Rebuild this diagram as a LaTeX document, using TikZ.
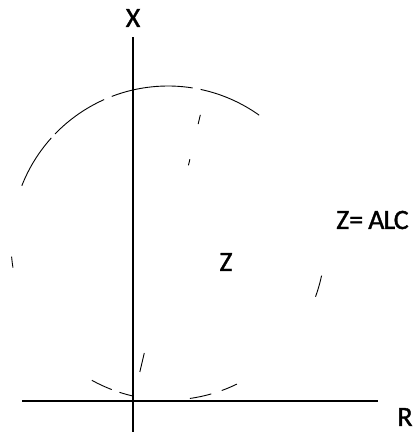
\documentclass[tikz,border=0pt]{standalone}
\usepackage{fontspec}
\setmainfont{Carlito}
\newfontfamily\lblfont{Carlito}[FakeBold=1.2]
\usetikzlibrary{calc}
\begin{document}
\begin{tikzpicture}[x=1pt,y=1pt,
  axis/.style={line width=1.4pt},
  arcline/.style={line width=0.9pt},
  lbl/.style={font=\lblfont\fontsize{28}{28}\selectfont, inner sep=0pt}]
\useasboundingbox (0,0) rectangle (413,434);
\clip (0,0) rectangle (413,434);
% axes
\coordinate (O) at (133,33);
\coordinate (Vtop) at (133,397);
\coordinate (Vbot) at (133,2);
\coordinate (Hl) at (22,33);
\coordinate (Hr) at (378,33);
\draw[axis] (Vbot) -- (Vtop);
\draw[axis] (Hl) -- (Hr);
% circle, centre and scattered arcs
\coordinate (C) at (168,191);
\draw[arcline] ([shift={(54.5:157)}]C) arc (54.5:78:157);
\draw[arcline] ([shift={(81:157)}]C) arc (81:111:157);
\draw[arcline] ([shift={(114:157)}]C) arc (114:136:157);
\draw[arcline] ([shift={(138:157)}]C) arc (138:158.6:157);
\draw[arcline] ([shift={(185:157)}]C) arc (185:189:157);
\draw[arcline] ([shift={(-20:157)}]C) arc (-20:-12:157);
\draw[arcline] ([shift={(-119:157)}]C) arc (-119:-111:157);
\draw[arcline] ([shift={(-108:157)}]C) arc (-108:-103:157);
\draw[arcline] ([shift={(-82:157)}]C) arc (-82:-74:157);
\draw[arcline] ([shift={(-70:157)}]C) arc (-70:-64:157);
% dashed radial line from origin
\coordinate (P) at (205,339);
\draw[arcline] ($(O)!0.905!(P)$) -- ($(O)!0.935!(P)$);
\draw[arcline] ($(O)!0.77!(P)$) -- ($(O)!0.79!(P)$);
\draw[arcline] ($(O)!0.095!(P)$) -- ($(O)!0.157!(P)$);
% labels
\node[lbl] (X) at (133,416) {X};
\node[lbl] (Zin) at (226,172) {Z};
\node[lbl, anchor=base west] (Zeq) at (336,205) {Z=\kern5pt A\kern-1pt L\kern-1.5pt C};
\node[lbl] (R) at (405,17) {R};
\end{tikzpicture}
\end{document}
